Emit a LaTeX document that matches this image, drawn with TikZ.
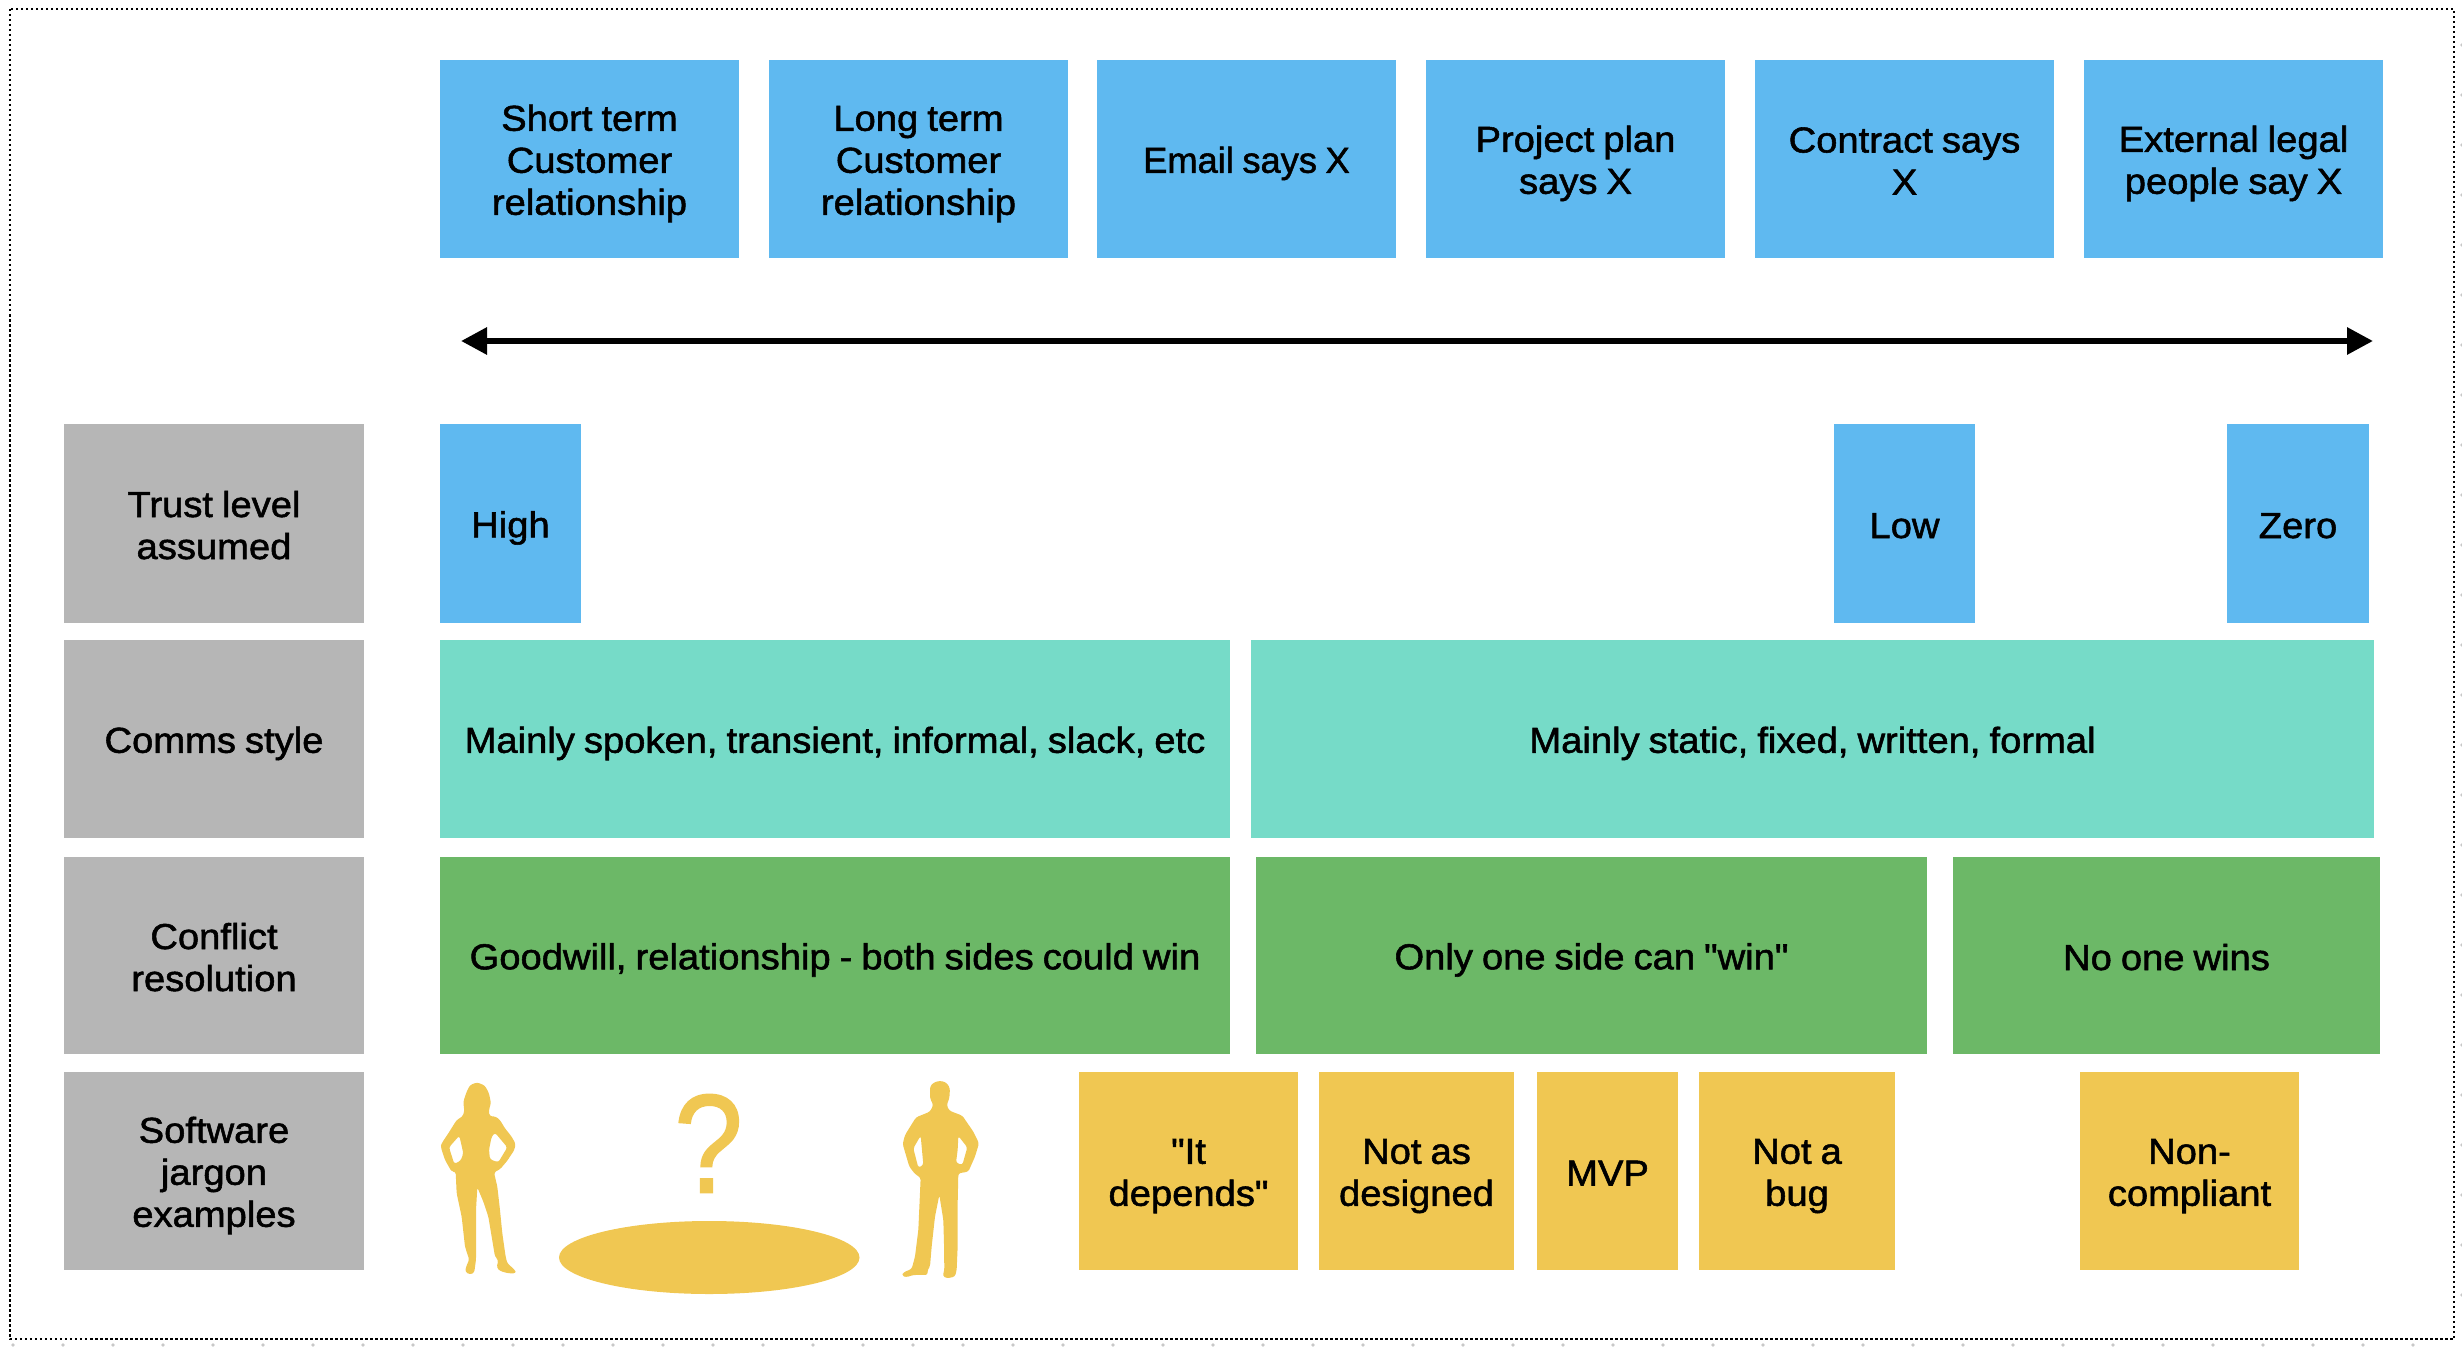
\documentclass[tikz,border=0pt]{standalone}
\usepackage{fontspec}
\usepackage{graphicx}
\setmainfont{Liberation Sans}[FakeBold=1.5,FakeStretch=1.06,WordSpace=0.85,Ligatures=TeXOff]
\newfontfamily\qfont{Liberation Sans}[FakeStretch=0.88,FakeBold=1]
\definecolor{cblue}{HTML}{5FB9F0}
\definecolor{cteal}{HTML}{76DBC8}
\definecolor{cgreen}{HTML}{6CB867}
\definecolor{cyellow}{HTML}{F0C752}
\definecolor{cgrey}{HTML}{B6B6B6}
\definecolor{cdot}{HTML}{C8C8C8}
\usetikzlibrary{arrows.meta}
\newcommand{\fs}{\rule{0pt}{35pt}}
\newcommand{\ls}{\rule[-6pt]{0pt}{6pt}}
\tikzset{
  cell/.style={draw=none,inner sep=0pt,outer sep=0pt,align=center,text=black,
    font=\fontsize{36}{42}\selectfont},
  blue cell/.style={cell,fill=cblue},
  teal cell/.style={cell,fill=cteal},
  green cell/.style={cell,fill=cgreen},
  yellow cell/.style={cell,fill=cyellow},
  grey cell/.style={cell,fill=cgrey},
  frame line/.style={draw=black,line width=2.5pt,dash pattern=on 2.5pt off 2.5pt},
  span arrow/.style={draw=black,line width=6pt,
    {Triangle[length=26pt,width=26pt,sep=0pt]}-{Triangle[length=26pt,width=26pt,sep=0pt]},shorten >=0pt,shorten <=0pt},
  figure fill/.style={fill=cyellow,even odd rule,rounded corners=2.5pt},
}
\newcommand{\cellbox}[7]{%
  \pgfmathsetmacro{\cx}{(#3+#5)/2}\pgfmathsetmacro{\cy}{(#4+#6)/2}%
  \pgfmathsetmacro{\cw}{#5-#3}\pgfmathsetmacro{\ch}{#6-#4}%
  \node[#1,minimum width=\cw pt,minimum height=\ch pt] (#2) at (\cx,\cy) {#7};}
\begin{document}
\begin{tikzpicture}[x=1pt,y=-1pt]
\useasboundingbox (0,0) rectangle (2462,1348);
% frame
\draw[frame line] (10,9) rectangle (2454,1339);
\foreach \i in {0,...,48} {\fill[cdot] ({13+50*\i},1345) circle (1.8pt);}
\foreach \i in {0,...,25} {\fill[cdot] (2462,{45+50*\i}) circle (1.8pt);}
% top row
\cellbox{blue cell}{t1}{440}{60}{739}{258}{\fs Short term\\Customer\\relationship\ls}
\cellbox{blue cell}{t2}{769}{60}{1068}{258}{\fs Long term\\Customer\\relationship\ls}
\cellbox{blue cell}{t3}{1097}{60}{1396}{258}{\fs\scalebox{0.95}[1]{Email says X}\ls}
\cellbox{blue cell}{t4}{1426}{60}{1725}{258}{\fs Project plan\\says X\ls}
\cellbox{blue cell}{t5}{1755}{60}{2054}{258}{\fs Contract says\\X\ls}
\cellbox{blue cell}{t6}{2084}{60}{2383}{258}{\fs External legal\\people say X\ls}
% arrow
\coordinate (aL) at (461,341);
\coordinate (aR) at (2373,341);
\draw[span arrow] (aL) -- (aR);
% labels
\cellbox{grey cell}{l1}{64}{424}{364}{623}{\fs Trust level\\assumed\ls}
\cellbox{grey cell}{l2}{64}{640}{364}{838}{\fs Comms style\ls}
\cellbox{grey cell}{l3}{64}{857}{364}{1054}{\fs Conflict\\resolution\ls}
\cellbox{grey cell}{l4}{64}{1072}{364}{1270}{\fs Software\\jargon\\examples\ls}
% trust
\cellbox{blue cell}{tr1}{440}{424}{581}{623}{\fs High\ls}
\cellbox{blue cell}{tr2}{1834}{424}{1975}{623}{\fs Low\ls}
\cellbox{blue cell}{tr3}{2227}{424}{2369}{623}{\fs Zero\ls}
% comms
\cellbox{teal cell}{c1}{440}{640}{1230}{838}{\fs Mainly spoken, transient, informal, slack, etc\ls}
\cellbox{teal cell}{c2}{1251}{640}{2374}{838}{\fs Mainly static, fixed, written, formal\ls}
% conflict
\cellbox{green cell}{r1}{440}{857}{1230}{1054}{\fs Goodwill, relationship - both sides could win\ls}
\cellbox{green cell}{r2}{1256}{857}{1927}{1054}{\fs Only one side can "win"\ls}
\cellbox{green cell}{r3}{1953}{857}{2380}{1054}{\fs No one wins\ls}
% software
\cellbox{yellow cell}{s1}{1079}{1072}{1298}{1270}{\fs "It\\depends"\ls}
\cellbox{yellow cell}{s2}{1319}{1072}{1514}{1270}{\fs Not as\\designed\ls}
\cellbox{yellow cell}{s3}{1537}{1072}{1678}{1270}{\fs MVP\ls}
\cellbox{yellow cell}{s4}{1699}{1072}{1895}{1270}{\fs Not a\\bug\ls}
\cellbox{yellow cell}{s5}{2080}{1072}{2299}{1270}{\fs Non-\\compliant\ls}
% ellipse and question mark
\fill[cyellow] (709.25,1257.5) ellipse (150.25pt and 36.5pt);
\node[inner sep=0pt,text=cyellow,font=\qfont\fontsize{141}{141}\selectfont] (qm) at (708.5,1143.5) {?};
% woman
\begin{scope}[shift={(420,1070)},x=0.3333pt,y=-0.3333pt]
\fill[figure fill]
 (172,37)--(195,47)--(207,70)--(213,100)--(207,118)--(208,138)--(228,140)--(240,150)--(255,175)--(275,200)--(287,222)--(283,240)--(262,272)--(240,298)--(222,307)--(232,350)--(240,420)--(247,490)--(257,560)--(262,580)--(285,600)--(288,610)--(265,610)--(240,603)--(230,593)--(235,570)--(225,560)--(215,500)--(205,440)--(190,395)--(172,352)--(168,420)--(168,520)--(168,570)--(165,590)--(163,608)--(150,614)--(135,605)--(140,585)--(148,570)--(135,530)--(125,440)--(110,370)--(107,305)--(95,305)--(75,270)--(62,230)--(65,220)--(85,190)--(110,150)--(127,140)--(133,125)--(130,95)--(140,65)--(150,45)--cycle
 (225,188)--(262,232)--(235,277)--(210,268)--(207,240)--(215,200)--cycle
 (118,197)--(130,250)--(122,272)--(103,282)--(87,232)--cycle;
\end{scope}
% man
\begin{scope}[shift={(880,1070)},x=0.3333pt,y=-0.3333pt]
\fill[figure fill]
 (180,32)--(200,38)--(210,55)--(208,85)--(200,105)--(208,122)--(247,137)--(280,185)--(297,220)--(285,260)--(265,305)--(235,310)--(233,400)--(233,530)--(230,600)--(225,620)--(200,625)--(188,618)--(193,600)--(192,520)--(190,450)--(178,375)--(165,440)--(155,530)--(150,590)--(143,598)--(143,615)--(100,615)--(78,622)--(66,617)--(70,607)--(95,597)--(105,560)--(115,480)--(122,323)--(105,312)--(88,290)--(68,222)--(75,195)--(108,142)--(150,125)--(160,105)--(150,85)--(150,50)--(160,38)--cycle
 (235,198)--(262,232)--(247,285)--(228,278)--(233,240)--cycle
 (122,197)--(130,285)--(115,293)--(100,235)--cycle;
\end{scope}
\end{tikzpicture}
\end{document}
